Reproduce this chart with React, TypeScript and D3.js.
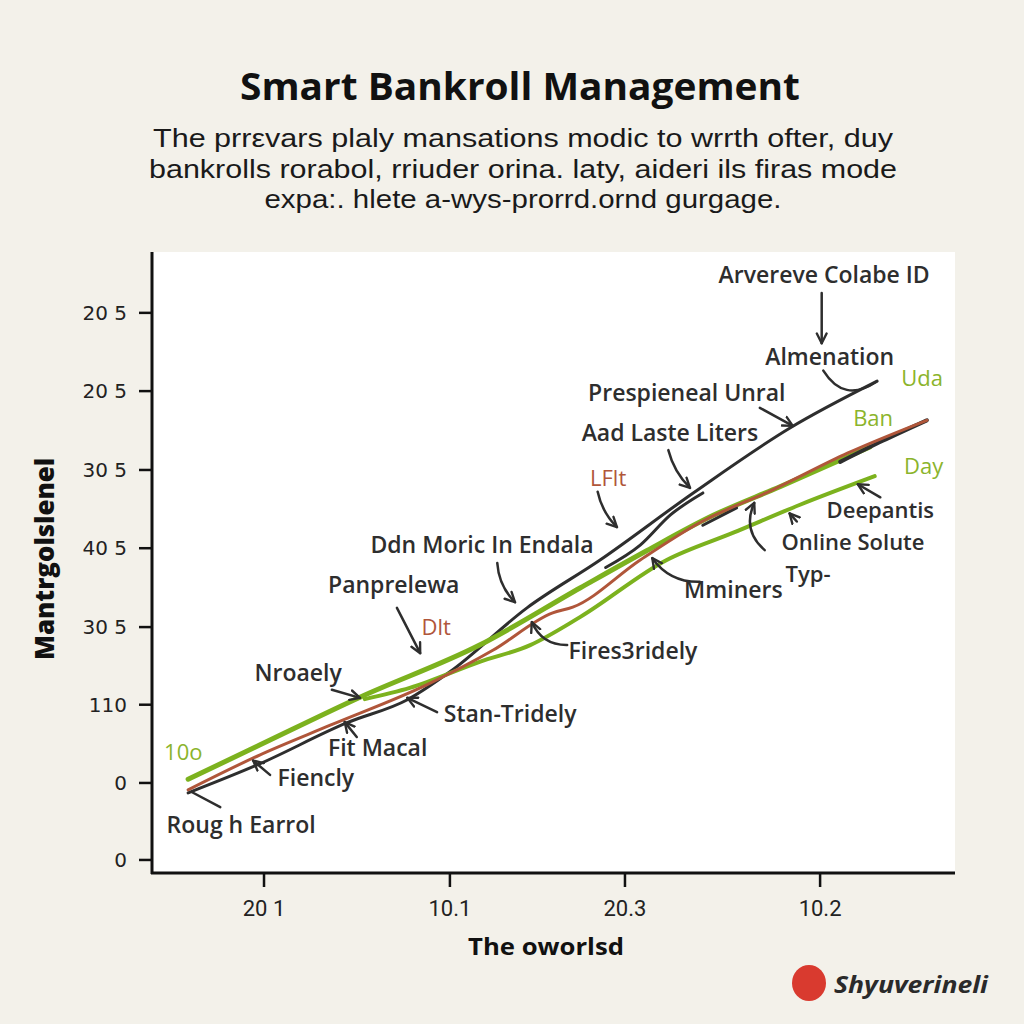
import React from "react";
import * as d3 from "d3";

type P = [number, number];

// ---- data (chart units: x and y both 0..100 across the plot frame) ----
const xTickValues = [13.95, 37.1, 58.9, 83.2];
const xTickLabels = ["20 1", "10.1", "20.3", "10.2"];
const yTickValues = [2.1, 14.5, 27.1, 39.6, 52.3, 64.9, 77.6, 90.2];
const yTickLabels = ["0", "0", "110", "30 5", "40 5", "30 5", "20 5", "20 5"];

const blackMain: P[] = [
  [4.5, 12.9], [13.1, 17.4], [24.3, 24.2], [31.8, 27.9], [37.1, 32.4],
  [46.7, 42.7], [55.8, 50.4], [67.4, 61.2], [79.5, 71.7], [90.3, 79.2],
];
const blackBranch: P[] = [[56.5, 49.2], [60.8, 52.8], [64.6, 57.7], [68.6, 61.2]];
const blackSegA: P[] = [[68.6, 56.0], [72.8, 58.8]];
const blackSegB: P[] = [[85.7, 66.2], [91.0, 69.6], [96.5, 72.9]];
const greenUpper: P[] = [
  [4.5, 15.1], [13.4, 20.6], [25.9, 28.3], [40.8, 36.7], [53.3, 45.9],
  [61.6, 51.9], [69.9, 57.6], [78.2, 62.2], [89.4, 68.6],
];
const greenLower: P[] = [
  [26.5, 28.0], [32.1, 29.8], [40.8, 34.0], [47.1, 36.7], [53.3, 41.2],
  [64.1, 50.4], [72.4, 54.8], [80.7, 59.3], [90.0, 63.9],
];
const brown: P[] = [
  [4.5, 13.4], [13.4, 19.0], [22.2, 23.8], [34.2, 30.3], [42.5, 35.9],
  [49.9, 41.9], [52.4, 42.8], [60.8, 50.4], [68.2, 56.4], [77.3, 61.7],
  [86.6, 67.6], [96.5, 72.9],
];

const labelTexts = [
  "Arvereve Colabe ID", "Almenation", "Uda", "Prespieneal Unral", "Ban",
  "Aad Laste Liters", "Day", "LFlt", "Deepantis", "Online Solute", "Typ-",
  "Ddn Moric In Endala", "Mminers", "Panprelewa", "Dlt", "Fires3ridely",
  "Nroaely", "Stan-Tridely", "Fit Macal", "10o", "Fiencly", "Roug h Earrol",
];
const labelX = [83.7, 84.4, 95.9, 66.6, 89.8, 64.5, 96.1, 56.8, 90.7, 87.3, 81.7, 41.1, 72.4, 30.1, 35.4, 59.9, 18.2, 44.6, 28.1, 3.9, 20.4, 11.1];
const labelY = [96.3, 83.1, 79.7, 77.3, 73.3, 70.9, 65.5, 63.6, 58.4, 53.3, 48.1, 52.8, 45.6, 46.4, 39.6, 35.7, 32.2, 25.6, 20.1, 19.5, 15.3, 7.7];
const labelKind = ["k", "k", "g", "k", "g", "k", "g", "b", "s", "s", "s", "k", "k", "k", "b", "k", "k", "k", "k", "g", "k", "k"];

// arrows: from -> to (chart units), bend (curvature), head
const arrowFrom: P[] = [
  [83.4, 93.4], [83.6, 80.9], [75.7, 74.9], [64.3, 68.1], [55.5, 61.4],
  [90.7, 60.5], [80.3, 56.6], [76.3, 52.0], [43.0, 49.9], [68.2, 46.9],
  [30.5, 42.7], [51.7, 36.7], [22.4, 29.5], [35.5, 25.9], [25.5, 21.9],
  [14.7, 15.8], [8.5, 10.6],
];
const arrowTo: P[] = [
  [83.4, 85.3], [90.2, 79.1], [79.8, 72.0], [67.0, 62.0], [57.9, 55.7],
  [87.9, 62.6], [79.4, 57.9], [75.0, 59.6], [45.2, 43.6], [62.3, 50.7],
  [33.4, 35.4], [47.3, 40.4], [25.9, 28.2], [31.8, 28.2], [24.0, 24.3],
  [12.6, 18.1], [5.0, 13.0],
];
const arrowBend = [0, 14, 0, 3, 3, 0, 0, -9, 4, -7, 0, -7, 0, 0, 0, 0, 0];
const arrowHead = [true, false, true, true, true, true, true, true, true, true, true, true, true, true, true, true, false];

const titleText = "Smart Bankroll Management";
const subtitleLines = [
  "The prrεvars plaly mansations modic to wrrth ofter, duy",
  "bankrolls rorabol, rriuder orina. laty, aideri ils firas mode",
  "expa:. hlete a-wys-prorrd.ornd gurgage.",
];
const xAxisTitle = "The oworlsd";
const yAxisTitle = "Mantrgolslenel";
const brandText = "Shyuverineli";

// ---- styles ----
const BG = "#f3f1ea";
const INK = "#2e2e2e";
const GREEN = "#7cb21e";
const GREEN_TXT = "#8bb42c";
const BROWN = "#b0563a";
const FONT = "'Open Sans', 'Noto Sans', sans-serif";

export default function App() {
  const left = 152, right = 955, top = 252, bottom = 873;
  const x = d3.scaleLinear().domain([0, 100]).range([left, right]);
  const y = d3.scaleLinear().domain([0, 100]).range([bottom, top]);
  const line = d3
    .line<P>()
    .x((d) => x(d[0]))
    .y((d) => y(d[1]))
    .curve(d3.curveMonotoneX);

  const colorOf = (k: string) => (k === "g" ? GREEN_TXT : k === "b" ? BROWN : INK);
  const sizeOf = (k: string) => (k === "k" ? 23 : k === "s" ? 22 : 22);
  const weightOf = (k: string) => (k === "k" || k === "s" ? 600 : 400);

  const arrowPath = (i: number) => {
    const x1 = x(arrowFrom[i][0]), y1 = y(arrowFrom[i][1]);
    const x2 = x(arrowTo[i][0]), y2 = y(arrowTo[i][1]);
    const b = arrowBend[i];
    if (!b) return `M${x1},${y1}L${x2},${y2}`;
    const dx = x2 - x1, dy = y2 - y1;
    const len = Math.hypot(dx, dy);
    const cx = (x1 + x2) / 2 + (-dy / len) * b * 2;
    const cy = (y1 + y2) / 2 + (dx / len) * b * 2;
    return `M${x1},${y1}Q${cx},${cy} ${x2},${y2}`;
  };

  return (
    <svg
      width={1024}
      height={1024}
      style={{ position: "absolute", left: 0, top: 0, display: "block" }}
    >
      <defs>
        <marker
          id="ah"
          viewBox="0 0 12 12"
          refX={10}
          refY={6}
          markerWidth={13}
          markerHeight={13}
          markerUnits="userSpaceOnUse"
          orient="auto"
        >
          <path d="M1,1.5 L10,6 L1,10.5" fill="none" stroke={INK} strokeWidth={2.2} strokeLinecap="round" strokeLinejoin="round" />
        </marker>
      </defs>
      <rect x={0} y={0} width={1024} height={1024} fill={BG} />
      <rect x={left} y={top} width={right - left} height={bottom - top} fill="#ffffff" />

      {/* title */}
      <text x={520} y={100} textAnchor="middle" fontFamily={FONT} fontWeight={700} fontSize={38} fill="#111" textLength={560} lengthAdjust="spacingAndGlyphs">
        {titleText}
      </text>
      {subtitleLines.map((s, i) => (
        <text
          key={i}
          x={523}
          y={147 + i * 30.5}
          textAnchor="middle"
          fontFamily="'Liberation Sans', Arial, sans-serif"
          fontSize={26}
          fill="#1a1a1a"
          textLength={i === 0 ? 740 : i === 1 ? 748 : 517}
          lengthAdjust="spacingAndGlyphs"
        >
          {s}
        </text>
      ))}

      {/* series */}
      <path d={line(blackMain) || ""} fill="none" stroke={INK} strokeWidth={3} strokeLinecap="round" />
      <path d={line(greenLower) || ""} fill="none" stroke={GREEN} strokeWidth={4} strokeLinecap="round" />
      <path d={line(greenUpper) || ""} fill="none" stroke={GREEN} strokeWidth={5} strokeLinecap="round" />
      <path d={line(blackBranch) || ""} fill="none" stroke={INK} strokeWidth={3} strokeLinecap="round" />
      <path d={line(blackSegA) || ""} fill="none" stroke={INK} strokeWidth={3} strokeLinecap="round" />
      <path d={line(blackSegB) || ""} fill="none" stroke={INK} strokeWidth={4} strokeLinecap="round" />
      <path d={line(brown) || ""} fill="none" stroke={BROWN} strokeWidth={3} strokeLinecap="round" />

      {/* arrows */}
      {arrowFrom.map((_, i) => (
        <path
          key={i}
          d={arrowPath(i)}
          fill="none"
          stroke={INK}
          strokeWidth={2.5}
          strokeLinecap="round"
          markerEnd={arrowHead[i] ? "url(#ah)" : undefined}
        />
      ))}

      {/* annotation labels */}
      {labelTexts.map((t, i) => (
        <text
          key={t + i}
          x={x(labelX[i])}
          y={y(labelY[i])}
          dy="0.35em"
          textAnchor="middle"
          fontFamily={FONT}
          fontSize={sizeOf(labelKind[i])}
          fontWeight={weightOf(labelKind[i])}
          fill={colorOf(labelKind[i])}
        >
          {t}
        </text>
      ))}

      {/* axes */}
      <line x1={left} y1={top} x2={left} y2={bottom + 1} stroke="#111" strokeWidth={3} />
      <line x1={left - 1} y1={bottom} x2={right} y2={bottom} stroke="#111" strokeWidth={3} />
      {yTickValues.map((v, i) => (
        <g key={"y" + i}>
          <line x1={left - 13} x2={left} y1={y(v)} y2={y(v)} stroke="#111" strokeWidth={2.5} />
          <text x={127} y={y(v)} dy="0.35em" textAnchor="end" fontFamily="'DejaVu Sans', sans-serif" fontSize={20} fill="#222">
            {yTickLabels[i]}
          </text>
        </g>
      ))}
      {xTickValues.map((v, i) => (
        <g key={"x" + i}>
          <line x1={x(v)} x2={x(v)} y1={bottom} y2={bottom + 14} stroke="#111" strokeWidth={2.5} />
          <text x={x(v)} y={916} textAnchor="middle" fontFamily="Roboto, sans-serif" fontSize={22} fill="#222">
            {xTickLabels[i]}
          </text>
        </g>
      ))}

      {/* axis titles */}
      <text x={546} y={955} textAnchor="middle" fontFamily={FONT} fontWeight={700} fontSize={24} fill="#111" textLength={156} lengthAdjust="spacingAndGlyphs">
        {xAxisTitle}
      </text>
      <text
        transform="translate(45,559) rotate(-90)"
        dy="0.35em"
        textAnchor="middle"
        fontFamily={FONT}
        fontWeight={800}
        fontSize={26}
        fill="#111"
        textLength={202}
        lengthAdjust="spacingAndGlyphs"
      >
        {yAxisTitle}
      </text>

      {/* brand */}
      <ellipse cx={809} cy={983} rx={17} ry={18} fill="#d93a2f" />
      <text x={834} y={993} fontFamily={FONT} fontWeight={700} fontStyle="italic" fontSize={23} fill="#2a2a2a" textLength={154} lengthAdjust="spacingAndGlyphs">
        {brandText}
      </text>
    </svg>
  );
}
